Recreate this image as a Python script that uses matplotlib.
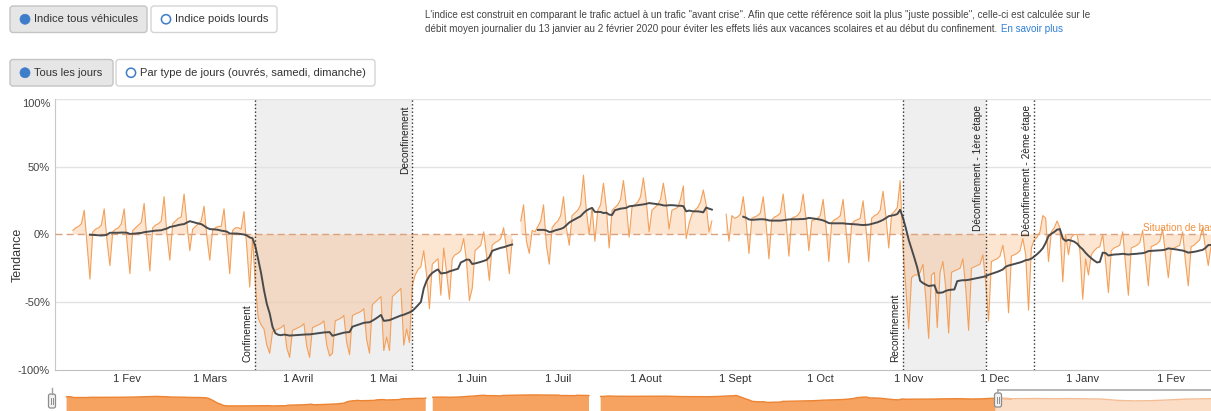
import numpy as np
import pandas as pd
import matplotlib
matplotlib.use("Agg")
import matplotlib.pyplot as plt
from matplotlib.patches import FancyBboxPatch, Circle
from matplotlib.transforms import ScaledTranslation

plt.rcParams['font.family'] = ['Liberation Sans', 'DejaVu Sans']

W, H, DPI = 1211, 411, 100

# ---- daily traffic index, % versus the "avant crise" reference ----
start_winter = "2020-01-13"
daily_winter = [
    3, 5, 6, 8, 18, -8, -33,
    2, 4, 5, 7, 19, -5, -23,
    2, 4, 5, 8, 19, -6, -29,
    3, 5, 7, 9, 23, -4, -27,
    5, 7, 8, 10, 28, 0, -19,
    8, 10, 12, 13, 30, 8, -12,
    4, 6, 8, 10, 21, -2, -19,
    3, 5, 6, 6, 19, -5, -29,
    3, 5, 5, 4, 17, -10, -39,
]

start_lockdown1 = "2020-03-16"
daily_lockdown1 = [
    -2, -38, -62, -67, -70, -82, -88,
    -72, -71, -70, -69, -67, -84, -91,
    -71, -70, -69, -68, -66, -83, -91,
    -69, -68, -67, -66, -64, -82, -90,
    -88, -64, -63, -62, -60, -80, -89,
    -60, -59, -58, -57, -55, -78, -88,
    -52, -50, -48, -46, -86, -76, -86,
    -46, -44, -42, -40, -82, -70, -80,
]

start_reopening = "2020-05-11"
daily_reopening = [
    -38, -30, -26, -24, -12, -30, -55,
    -22, -20, -18, -45, -10, -28, -48,
    -18, -15, -14, -12, -3, -20, -49,
    -40, -12, -10, -8, 2, -15, -34,
    -8, -6, -5, -3, 5, -10, -29,
    -4,
]

start_summer = "2020-06-18"
daily_summer = [
    10, 22, -5, -14,
    3, 2, 6, 10, 22, -8, -22,
    5, 8, 10, 14, 28, 5, -8,
    14, 16, 18, 22, 44, 18, 0,
    20, -5, 18, 22, 38, 20, -10,
    18, 20, 22, 26, 40, 22, -2,
    20, 22, 24, 28, 42, 25, 2,
    18, 20, 22, 26, 38, 24, 4,
    18, 19, 20, 26, 36, -3, 8,
    15, 18, 20, 24, 33, 22, 2,
    10,
]

start_autumn = "2020-08-29"
daily_autumn = [
    15, -5,
    14, 12, 13, 15, 28, 10, -14,
    12, 13, 14, 16, 28, 8, -18,
    11, 13, 14, 16, 30, 10, -16,
    12, 13, 14, 17, 30, 12, -12,
    10, 11, 12, 14, 26, 6, -20,
    9, 11, 12, 14, 26, 4, -21,
    8, 10, 11, 12, 25, 5, -20,
    12, 14, 15, 18, 32, 14, -10,
    15, 17, 20, 40,
]

start_lockdown2 = "2020-10-30"
daily_lockdown2 = [
    -10, -40, -70,
    -32, -30, -30, -28, -22, -48, -77,
    -30, -28, -69, -28, -20, -40, -73,
    -28, -27, -26, -25, -18, -40, -71,
    -25, -24, -23, -22, -15, -36, -64,
]

start_december = "2020-11-30"
daily_december = [
    -20, -19, -18, -16, -8, -22, -58,
    -16, -15, -14, -12, -3, -15, -56,
    -10, -4, -2, 2, 14, 12, -20,
    2, 5, 10, 5, -35, 0, -15,
    -2, 0, 0, -12, -48, -18, -30,
]

start_2021 = "2021-01-04"
daily_2021 = [
    -15, -12, -10, -9, 0, -20, -43,
    -12, -10, -9, -8, 2, -22, -45,
    -10, -9, -8, -6, 3, -18, -38,
    -9, -8, -7, -5, 4, -15, -32,
    -11, -10, -9, -8, 2, -20, -38,
    -9, -8, -6, -4, 5, -10, -23,
    -8, -7, -6, -5, 4, -12, -30,
]

# weekly levels shown only in the navigator, after the visible window
start_nav_tail = "2021-02-25"
weekly_nav_tail = [-10, -9, -11, -10, -12, -14, -26, -30, -28, -22, -15, -12, -10]

event_labels = ["Confinement", "Deconfinement", "Reconfinement",
                "Déconfinement - 1ère étape", "Déconfinement - 2ème étape"]
event_dates = ["2020-03-17", "2020-05-11", "2020-10-30", "2020-11-28", "2020-12-15"]
event_side = ["bottom", "top", "bottom", "top", "top"]
lockdown_starts = ["2020-03-17", "2020-10-30"]
lockdown_ends = ["2020-05-11", "2020-11-28"]

month_ticks = ["2020-02-01", "2020-03-01", "2020-04-01", "2020-05-01", "2020-06-01",
               "2020-07-01", "2020-08-01", "2020-09-01", "2020-10-01", "2020-11-01",
               "2020-12-01", "2021-01-01", "2021-02-01"]
month_labels = ["1 Fev", "1 Mars", "1 Avril", "1 Mai", "1 Juin", "1 Juil", "1 Aout",
                "1 Sept", "1 Oct", "1 Nov", "1 Dec", "1 Janv", "1 Fev"]
y_ticks = [-100, -50, 0, 50, 100]
y_labels = ["-100%", "-50%", "0%", "50%", "100%"]

baseline_label = "Situation de base"
baseline_label_date = "2021-01-22"

# ---- assemble the daily series (gaps stay NaN) ----
segments = [
    (start_winter, daily_winter), (start_lockdown1, daily_lockdown1),
    (start_reopening, daily_reopening), (start_summer, daily_summer),
    (start_autumn, daily_autumn), (start_lockdown2, daily_lockdown2),
    (start_december, daily_december), (start_2021, daily_2021),
]
idx = pd.date_range("2020-01-13", "2021-02-21", freq="D")
daily = pd.Series(np.nan, index=idx)
for start, vals in segments:
    daily.loc[pd.date_range(start, periods=len(vals), freq="D")] = vals

# 7-day moving average
avg = daily.rolling(7, min_periods=7).mean()

# smoothed series for the navigator strip
nav = daily.rolling(7, min_periods=1, center=True).mean().where(daily.notna())
tail = pd.Series(weekly_nav_tail,
                 index=pd.date_range(start_nav_tail, periods=len(weekly_nav_tail), freq="7D"))

# ---- figure ----
fig = plt.figure(figsize=(W / DPI, H / DPI), dpi=DPI)


def frame(x0, y0, x1, y1):
    return [x0 / W, 1 - y1 / H, (x1 - x0) / W, (y1 - y0) / H]


view_start = pd.Timestamp("2020-01-06 18:00")
view_end = pd.Timestamp("2021-02-14 23:00")
nav_end = pd.Timestamp("2021-05-17 17:00")

ax = fig.add_axes(frame(55, 99.5, 1211, 369.5))
ax.set_xlim(view_start, view_end)
ax.set_ylim(-100, 100)
ax.patch.set_alpha(0)

for s, e in zip(lockdown_starts, lockdown_ends):
    ax.axvspan(pd.Timestamp(s), pd.Timestamp(e), color="#efefef", lw=0, zorder=0)
for v in (100, 50, -50):
    ax.axhline(v, color="#e3e3e3", lw=1, zorder=0.5)

x = daily.index.to_pydatetime()
ax.fill_between(x, daily.values, 0, color="#f7a35c", alpha=0.28, lw=0, zorder=1)
ax.plot(x, daily.values, color="#f3a05a", lw=0.8, zorder=2)
ax.axhline(0, color="#dba27e", lw=1, ls=(0, (5, 3)), zorder=3)
ax.plot(avg.index.to_pydatetime(), avg.values, color="#4a4a4a", lw=1.4, zorder=4)

for lab, d, side in zip(event_labels, event_dates, event_side):
    t = pd.Timestamp(d)
    ax.axvline(t, color="#333333", lw=1, ls=":", zorder=5)
    if side == "bottom":
        ax.annotate(lab, xy=(t, 0), xycoords=("data", "axes fraction"),
                    xytext=(-2.5, 8), textcoords="offset pixels", rotation=90,
                    ha="right", va="bottom", fontsize=7.3, color="#222222", zorder=6)
    else:
        ax.annotate(lab, xy=(t, 1), xycoords=("data", "axes fraction"),
                    xytext=(-2.5, -5.5), textcoords="offset pixels", rotation=90,
                    ha="right", va="top", fontsize=7.3, color="#222222", zorder=6)

ax.annotate(baseline_label, xy=(pd.Timestamp(baseline_label_date), 0),
            xytext=(0, 1.5), textcoords="offset pixels", ha="left", va="bottom",
            fontsize=7.2, color="#f0913f", annotation_clip=False, zorder=6)

ax.set_xticks([pd.Timestamp(d) for d in month_ticks])
ax.set_xticklabels(month_labels)
ax.set_yticks(y_ticks)
ax.set_yticklabels(y_labels)
ax.tick_params(axis="x", length=0, pad=3.5, labelsize=8, labelcolor="#333333")
ax.tick_params(axis="y", length=0, pad=3.6, labelsize=8, labelcolor="#444444")
# the top label sits just inside the plot area
top_label = ax.get_yticklabels()[-1]
top_label.set_transform(top_label.get_transform() +
                        ScaledTranslation(0, -0.04, fig.dpi_scale_trans))
for side in ("top", "right"):
    ax.spines[side].set_visible(False)
ax.spines["left"].set_color("#c8c8c8")
ax.spines["bottom"].set_color("#c0c0c0")

fig.text(18 / W, 1 - 255 / H, "Tendance", rotation=90, ha="center", va="center",
         fontsize=9, color="#333333")

# ---- navigator strip ----
axn = fig.add_axes(frame(52, 388, 1211, 411))
axn.set_xlim(view_start, nav_end)
axn.set_ylim(-119.5, 84)
axn.axis("off")
xn = nav.index.to_pydatetime()
axn.fill_between(xn, nav.values, -119.5, color="#f6a260", lw=0)
axn.plot(xn, nav.values, color="#ec8434", lw=1)
pale = pd.concat([nav.iloc[-8:], tail])
pale = pale[pale.index >= view_end - pd.Timedelta(days=1)]
axn.fill_between(pale.index.to_pydatetime(), pale.values, -119.5, color="#fbdcc4", lw=0)
axn.plot(pale.index.to_pydatetime(), pale.values, color="#f3bd95", lw=1)

# ---- overlay: buttons, intro text, navigator handles ----
ov = fig.add_axes([0, 0, 1, 1], zorder=10)
ov.set_xlim(0, W)
ov.set_ylim(H, 0)
ov.axis("off")
ov.patch.set_alpha(0)

BLUE = "#3d7dca"


def button(x0, y0, x1, y1, label, active):
    ov.add_patch(FancyBboxPatch((x0, y0), x1 - x0, y1 - y0,
                                boxstyle="round,pad=0,rounding_size=3",
                                fc="#e6e6e6" if active else "white",
                                ec="#c4c4c4" if active else "#d4d4d4", lw=1))
    cy = (y0 + y1) / 2
    if active:
        ov.add_patch(Circle((x0 + 15, cy), 5, fc=BLUE, ec=BLUE, lw=0.5))
    else:
        ov.add_patch(Circle((x0 + 15, cy), 4.6, fc="white", ec=BLUE, lw=1.1))
    ov.text(x0 + 24, cy, label, ha="left", va="center", fontsize=8, color="#333333")


button(10, 6, 147, 32.5, "Indice tous véhicules", True)
button(151, 6, 277, 32.5, "Indice poids lourds", False)
button(10, 59.5, 113, 86, "Tous les jours", True)
button(116, 59.5, 375, 86, "Par type de jours (ouvrés, samedi, dimanche)", False)

intro_1 = ("L'indice est construit en comparant le trafic actuel à un trafic \"avant crise\". "
           "Afin que cette référence soit la plus \"juste possible\", celle-ci est calculée sur le")
intro_2 = ("débit moyen journalier du 13 janvier au 2 février 2020 pour éviter les effets liés "
           "aux vacances scolaires et au début du confinement.")
ov.text(425, 14.5, intro_1, ha="left", va="center", fontsize=7.1, color="#444444")
t2 = ov.text(425, 29.5, intro_2, ha="left", va="center", fontsize=7.1, color="#444444")
fig.canvas.draw()
bb = t2.get_window_extent(fig.canvas.get_renderer())
x_end = ov.transData.inverted().transform((bb.x1, bb.y0))[0]
ov.text(x_end + 4, 29.5, "En savoir plus", ha="left", va="center", fontsize=7.1, color="#2f7ed8")


def handle(xc, y0, y1):
    ov.add_patch(FancyBboxPatch((xc - 3.5, y0), 7, y1 - y0,
                                boxstyle="round,pad=0,rounding_size=2",
                                fc="#f2f2f2", ec="#8c8c8c", lw=0.9))
    for dx in (-1.2, 1.2):
        ov.plot([xc + dx, xc + dx], [y0 + 4, y1 - 4], color="#8c8c8c", lw=0.7)


ov.plot([52, 52], [388, 394], color="#a0a0a0", lw=1)
handle(52, 394, 408)
ov.plot([998, 1211], [390, 390], color="#a8a8a8", lw=1.2)
ov.plot([998, 998], [390, 393], color="#a8a8a8", lw=1.2)
handle(998, 393, 407)

fig.savefig("out.png", dpi=DPI)
